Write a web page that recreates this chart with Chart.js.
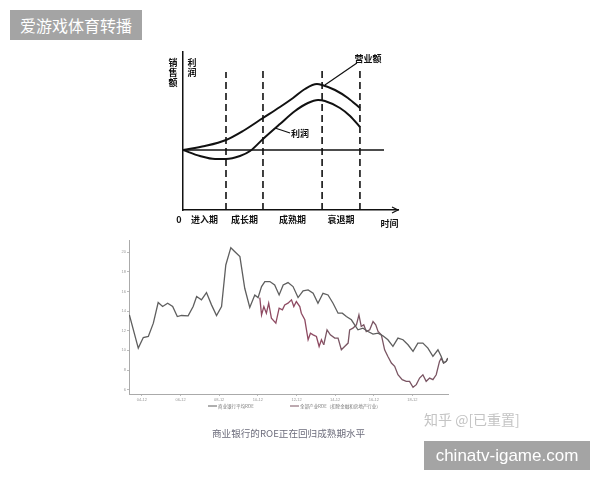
<!DOCTYPE html>
<html><head><meta charset="utf-8">
<script src="https://cdn.jsdelivr.net/npm/chart.js@4.4.1/dist/chart.umd.min.js"></script>
<style>
body{margin:0;background:#fff;}
#wrap{position:relative;width:600px;height:480px;overflow:hidden;font-family:"Noto Sans CJK SC",sans-serif;}
canvas{position:absolute;left:0;top:0;}
.tag{position:absolute;background:#a4a4a4;color:#fff;white-space:nowrap;}
#tag1{left:10px;top:10px;width:132px;height:30px;line-height:30px;font-size:16px;text-align:center;}
#tag2{left:424px;top:441px;width:166px;height:29px;line-height:29px;font-size:17px;font-family:"Liberation Sans",sans-serif;text-align:center;}
#zhihu{position:absolute;left:424px;top:409px;color:#c4c4c4;font-size:14px;white-space:nowrap;}
#cap{position:absolute;left:212px;top:426px;font-size:9.6px;color:#6d6d7c;white-space:nowrap;}
</style></head>
<body><div id="wrap">
<canvas id="top" width="600" height="480"></canvas>
<canvas id="roe" width="600" height="480"></canvas>
<div class="tag" id="tag1">爱游戏体育转播</div>
<div id="zhihu">知乎 @[已重置]</div>
<div id="cap">商业银行的ROE正在回归成熟期水平</div>
<div class="tag" id="tag2">chinatv-igame.com</div>
</div>
<script>
// ---- 上图：企业生命周期 ----
const STAGES = ["进入期", "成长期", "成熟期", "衰退期"];
const STAGE_EDGES = [0, 2.0, 3.72, 6.47, 8.23];
const DASH_TOPS = [7.8, 8.0, 8.0, 8.3];
const REV_X = [0, 1.02, 2.0, 2.79, 3.72, 4.51, 5.12, 5.67, 6.23, 6.47, 7.07, 7.67, 8.23];
const REV_Y = [0, 0.4, 1.0, 1.9, 3.2, 4.3, 5.2, 6.1, 6.6, 6.5, 6.0, 5.2, 4.2];
const PROFIT_X = [0, 0.79, 1.49, 2.0, 2.65, 3.12, 3.72, 4.51, 5.21, 5.81, 6.28, 6.6, 7.3, 7.77, 8.23];
const PROFIT_Y = [0, -0.6, -0.9, -0.9, -0.6, -0.1, 1.1, 2.6, 3.9, 4.7, 5.0, 4.9, 4.2, 3.4, 2.3];
const ZERO_END = 9.35;
const LEADERS = [[[8.09, 8.7], [6.6, 6.5]], [[4.98, 1.7], [4.28, 2.2]]];
const CURVE_LABELS = [["营业额", 8.6, 9.1], ["利润", 5.44, 1.6]];

// ---- 下图：ROE ----
const YEAR_TICKS = [2004.92, 2006.92, 2008.92, 2010.92, 2012.92, 2014.92, 2016.92, 2018.92];
const YEAR_LABELS = ["04-12", "06-12", "08-12", "10-12", "12-12", "14-12", "16-12", "18-12"];
const ROE_TICKS = [6, 8, 10, 12, 14, 16, 18, 20];
const BANK_X = [2004.27, 2004.73, 2004.99, 2005.25, 2005.51, 2005.76, 2005.99, 2006.25, 2006.51, 2006.75, 2006.97, 2007.31, 2007.57, 2007.75, 2008.00, 2008.26, 2008.52, 2008.78, 2009.04, 2009.26, 2009.52, 2009.73, 2009.99, 2010.24, 2010.50, 2010.76, 2010.93, 2011.11, 2011.28, 2011.54, 2011.79, 2012.02, 2012.23, 2012.48, 2012.74, 2013.00, 2013.26, 2013.52, 2013.78, 2014.03, 2014.29, 2014.55, 2014.81, 2015.07, 2015.29, 2015.50, 2015.76, 2015.93, 2016.10, 2016.36, 2016.62, 2016.88, 2017.14, 2017.39, 2017.65, 2017.91, 2018.17, 2018.43, 2018.69, 2018.95, 2019.20, 2019.46, 2019.72, 2019.98, 2020.24, 2020.41, 2020.53, 2020.67, 2020.75];
const BANK_Y = [13.61, 10.23, 11.31, 11.41, 12.77, 14.87, 14.46, 14.80, 14.46, 13.44, 13.55, 13.51, 14.46, 15.48, 15.14, 15.88, 14.63, 13.55, 14.46, 18.69, 20.45, 20.04, 19.54, 16.32, 14.36, 15.64, 15.37, 16.49, 17.00, 17.00, 16.66, 15.64, 16.66, 16.90, 16.49, 15.37, 16.05, 16.15, 15.81, 14.80, 15.81, 15.64, 14.80, 13.78, 13.78, 13.44, 13.11, 12.60, 12.09, 12.26, 11.92, 11.65, 11.75, 11.48, 11.08, 10.40, 11.25, 11.08, 10.57, 9.89, 10.74, 10.74, 10.23, 9.38, 10.06, 9.38, 8.71, 8.88, 9.21];
const IND_X = [2011.02, 2011.11, 2011.23, 2011.36, 2011.48, 2011.62, 2011.85, 2012.02, 2012.19, 2012.31, 2012.48, 2012.66, 2012.78, 2012.91, 2013.09, 2013.17, 2013.35, 2013.52, 2013.64, 2013.78, 2013.95, 2014.09, 2014.21, 2014.33, 2014.50, 2014.67, 2014.90, 2015.07, 2015.24, 2015.41, 2015.59, 2015.67, 2015.84, 2016.02, 2016.15, 2016.27, 2016.40, 2016.53, 2016.71, 2016.88, 2017.02, 2017.14, 2017.31, 2017.48, 2017.65, 2017.83, 2018.00, 2018.17, 2018.39, 2018.60, 2018.77, 2018.95, 2019.12, 2019.29, 2019.46, 2019.63, 2019.81, 2019.98, 2020.15, 2020.32, 2020.41, 2020.53, 2020.67, 2020.75];
const IND_Y = [15.37, 13.61, 14.46, 13.78, 14.80, 13.28, 12.77, 14.29, 14.12, 14.63, 14.80, 15.14, 14.46, 14.97, 14.46, 13.78, 13.11, 11.08, 11.75, 11.58, 11.41, 10.40, 11.08, 10.57, 12.09, 11.58, 11.25, 11.25, 10.06, 10.40, 10.74, 12.09, 12.26, 12.60, 13.61, 12.43, 12.60, 11.92, 12.09, 12.94, 12.60, 11.92, 11.58, 10.06, 9.38, 8.71, 8.37, 7.52, 7.02, 6.85, 6.85, 6.24, 6.51, 7.18, 7.52, 6.85, 7.18, 7.02, 7.52, 8.88, 9.21, 8.71, 8.88, 9.21];
const LEGEND = ["商业银行平均ROE", "全部产业ROE（扣除金融和房地产行业）"];

const pts = (xs, ys) => xs.map((x, i) => ({ x, y: ys[i] }));
const noSize = (s) => { if (s.isHorizontal()) s.height = 0; else s.width = 0; };
// 刻度标签会被裁剪到轴框内，所以给下图的轴留 10px
const fixSize = (s) => { if (s.isHorizontal()) s.height = 10; else s.width = 10; };

// 上图
const topSets = [
  { data: pts(REV_X, REV_Y), borderColor: "#111", borderWidth: 2, cubicInterpolationMode: "monotone" },
  { data: pts(PROFIT_X, PROFIT_Y), borderColor: "#111", borderWidth: 2, cubicInterpolationMode: "monotone" },
  { data: [{ x: 0, y: 0 }, { x: ZERO_END, y: 0 }], borderColor: "#111", borderWidth: 1.4 },
];
STAGE_EDGES.slice(1).forEach((e, i) => topSets.push({ data: [{ x: e, y: -6 }, { x: e, y: DASH_TOPS[i] }], borderColor: "#111", borderWidth: 1.6, borderDash: [7, 4] }));
LEADERS.forEach((l) => topSets.push({ data: l.map(([x, y]) => ({ x, y })), borderColor: "#111", borderWidth: 1.2 }));

const topText = {
  id: "topText",
  afterDraw(c) {
    const { ctx, scales: { x, y } } = c;
    ctx.save();
    ctx.fillStyle = "#111";
    ctx.font = "bold 9px 'Noto Sans CJK SC'";
    ctx.textAlign = "center"; ctx.textBaseline = "middle";
    const by = y.getPixelForValue(-6);
    STAGES.forEach((s, i) => ctx.fillText(s, x.getPixelForValue((STAGE_EDGES[i] + STAGE_EDGES[i + 1]) / 2), by + 10));
    ctx.fillText("0", x.getPixelForValue(0) - 4, by + 10);
    ctx.fillText("时间", x.getPixelForValue(9.6), by + 14);
    CURVE_LABELS.forEach(([t, vx, vy]) => ctx.fillText(t, x.getPixelForValue(vx), y.getPixelForValue(vy)));
    ["销", "售", "额"].forEach((ch, i) => ctx.fillText(ch, x.getPixelForValue(0) - 10, 63 + i * 10));
    ["利", "润"].forEach((ch, i) => ctx.fillText(ch, x.getPixelForValue(0) + 9, 63 + i * 10));
    // x 轴箭头
    const ax = x.getPixelForValue(10);
    ctx.strokeStyle = "#111"; ctx.lineWidth = 1.2;
    ctx.beginPath(); ctx.moveTo(ax - 6, by - 3); ctx.lineTo(ax, by); ctx.lineTo(ax - 6, by + 3); ctx.stroke();
    ctx.restore();
  },
};

new Chart(document.getElementById("top"), {
  type: "line",
  data: { datasets: topSets },
  options: {
    responsive: false, animation: false,
    layout: { padding: { left: 183, right: 202, top: 52, bottom: 270 } },
    elements: { point: { radius: 0 } },
    plugins: { legend: { display: false }, tooltip: { enabled: false } },
    scales: {
      x: { type: "linear", min: 0, max: 10, grid: { display: false, drawTicks: false }, ticks: { display: false }, border: { color: "#111", width: 1.5 }, afterFit: noSize },
      y: { min: -6, max: 9.8, grid: { display: false, drawTicks: false }, ticks: { display: false }, border: { color: "#111", width: 1.5 }, afterFit: noSize },
    },
  },
  plugins: [topText],
});

// 下图
const roeLegend = {
  id: "roeLegend",
  afterDraw(c) {
    const { ctx } = c;
    ctx.save();
    ctx.font = "4.5px 'Noto Sans CJK SC'";
    ctx.fillStyle = "#777"; ctx.textBaseline = "middle";
    [[208, "#5f5f5f"], [290, "#7a5563"]].forEach(([lx, col], i) => {
      ctx.strokeStyle = col; ctx.lineWidth = 1;
      ctx.beginPath(); ctx.moveTo(lx, 406); ctx.lineTo(lx + 9, 406); ctx.stroke();
      ctx.fillText(LEGEND[i], lx + 10, 406);
    });
    ctx.restore();
  },
};

new Chart(document.getElementById("roe"), {
  type: "line",
  data: {
    datasets: [
      { data: pts(BANK_X, BANK_Y), borderColor: "#5f5f5f", borderWidth: 1.3, tension: 0 },
      { data: pts(IND_X, IND_Y), borderColor: "#7a5563", borderWidth: 1.3, tension: 0,
        segment: { borderColor: (s) => (s.p0.parsed.x >= 2011.0 && s.p1.parsed.x <= 2014.4 ? "#8e4a62" : undefined) } },
    ],
  },
  options: {
    responsive: false, animation: false,
    layout: { padding: { left: 119, right: 152, top: 240, bottom: 76 } },
    elements: { point: { radius: 0 } },
    plugins: { legend: { display: false }, tooltip: { enabled: false } },
    scales: {
      x: {
        type: "linear", min: 2004.25, max: 2020.76,
        afterBuildTicks: (s) => { s.ticks = YEAR_TICKS.map((v) => ({ value: v })); },
        ticks: { callback: (v, i) => YEAR_LABELS[i], font: { size: 4 }, color: "#999", padding: 1, maxRotation: 0, autoSkip: false },
        grid: { drawOnChartArea: false, tickLength: 2, color: "#bbb" },
        border: { color: "#aaa", width: 1 }, afterFit: fixSize,
      },
      y: {
        min: 5.56, max: 21.23,
        afterBuildTicks: (s) => { s.ticks = ROE_TICKS.map((v) => ({ value: v })); },
        ticks: { font: { size: 4 }, color: "#999", padding: 1, autoSkip: false },
        grid: { drawOnChartArea: false, tickLength: 2, color: "#bbb" },
        border: { color: "#aaa", width: 1 }, afterFit: fixSize,
      },
    },
  },
  plugins: [roeLegend],
});
</script>
</body></html>
